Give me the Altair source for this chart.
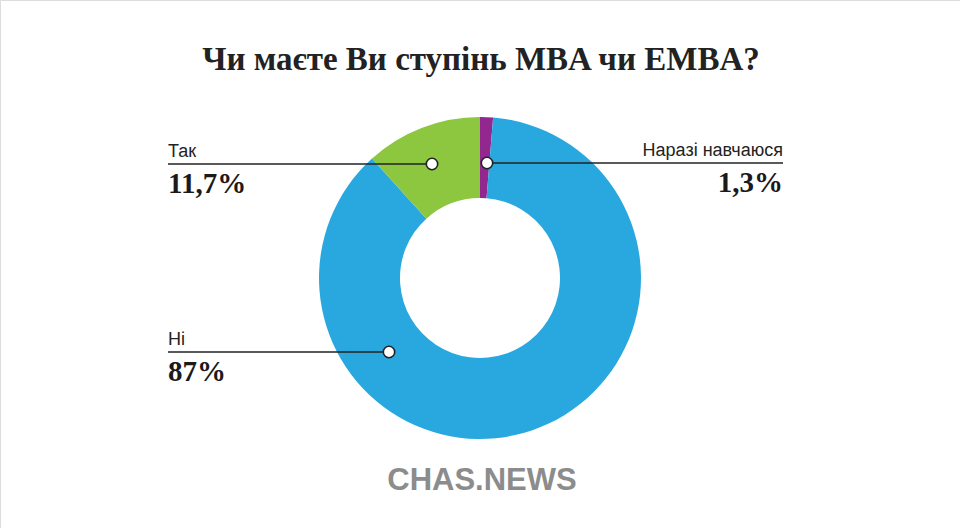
import altair as alt
import pandas as pd

# ---- data ----
categories = ["Наразі навчаюся", "Ні", "Так"]
values = [1.3, 87.0, 11.7]
value_labels = ["1,3%", "87%", "11,7%"]
colors = ["#92278f", "#29a8e0", "#8dc63f"]

title_text = "Чи маєте Ви ступінь MBA чи EMBA?"
logo_text = "CHAS.NEWS"

# ---- layout (pixel positions of annotations) ----
CX, CY = 480, 278
dot_x = [487, 389, 432]
dot_y = [163, 352, 164]
line_end_x = [783, 168, 168]
label_align = ["right", "left", "left"]

df = pd.DataFrame({
    "cat": categories,
    "value": values,
    "order": list(range(len(categories))),
    "pct": value_labels,
})

ann = pd.DataFrame({
    "cat": categories,
    "pct": value_labels,
    "dx": dot_x,
    "dy": dot_y,
    "lx": line_end_x,
    "ly": dot_y,
    "tyc": [y - 7 for y in dot_y],
    "typ": [y + 29 for y in dot_y],
    "align": label_align,
})

base = alt.Chart(df)

arcs = base.mark_arc(innerRadius=80, outerRadius=161).encode(
    theta=alt.Theta("value:Q", stack=True),
    order=alt.Order("order:Q"),
    color=alt.Color("cat:N", scale=alt.Scale(domain=categories, range=colors), legend=None),
    x=alt.value(CX),
    y=alt.value(CY),
)

a = alt.Chart(ann)
X = lambda f: alt.X(f, type="quantitative", scale=None, axis=None)
Y = lambda f: alt.Y(f, type="quantitative", scale=None, axis=None)

lines = a.mark_rule(color="#222222", strokeWidth=1.6).encode(
    x=X("dx"), x2=alt.X2("lx"), y=Y("ly")
)

dots = a.mark_point(filled=True, fill="white", stroke="#222222", strokeWidth=1.6, size=130, opacity=1, shape="circle").encode(
    x=X("dx"), y=Y("dy")
)

left = ann[ann["align"] == "left"]
right = ann[ann["align"] == "right"]

def labels(frame, align):
    c = alt.Chart(frame)
    t1 = c.mark_text(align=align, baseline="alphabetic", font="Liberation Sans", fontSize=18, color="#222222").encode(
        x=X("lx"), y=Y("tyc"), text="cat:N"
    )
    t2 = c.mark_text(align=align, baseline="alphabetic", font="Liberation Serif", fontWeight="bold", fontSize=29, color="#1a1a1a").encode(
        x=X("lx"), y=Y("typ"), text="pct:N"
    )
    return t1 + t2

title = alt.Chart(pd.DataFrame({"t": [title_text]})).mark_text(
    font="Liberation Serif", fontWeight="bold", fontSize=33, color="#222222",
    align="center", baseline="alphabetic"
).encode(x=alt.value(481), y=alt.value(70), text="t:N")

logo = alt.Chart(pd.DataFrame({"t": [logo_text]})).mark_text(
    font="Liberation Sans", fontWeight="bold", fontSize=31, color="#8c8c8c",
    align="center", baseline="alphabetic"
).encode(x=alt.value(482), y=alt.value(490), text="t:N")

chart = alt.layer(
    arcs, lines, dots, labels(left, "left"), labels(right, "right"), title, logo
).properties(
    width=960, height=528, padding=0, autosize=alt.AutoSizeParams(type="none")
).configure_view(strokeWidth=0, stroke="transparent").configure(background="white")

chart.save("out.html", embed_options={"renderer": "svg", "actions": False})
